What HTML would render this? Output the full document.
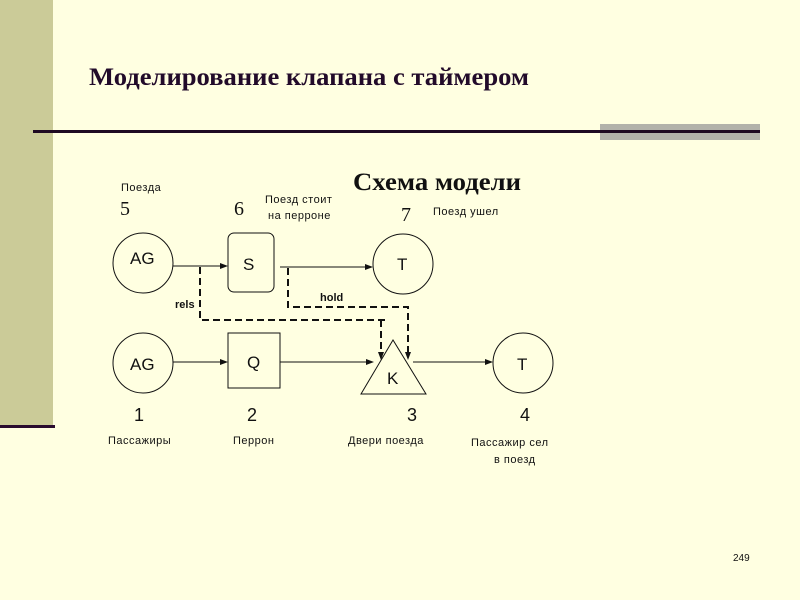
<!DOCTYPE html>
<html><head><meta charset="utf-8"><style>
html,body{margin:0;padding:0;background:#ffffe1;}
svg{display:block;}
</style></head><body>
<svg width="800" height="600" xmlns="http://www.w3.org/2000/svg">
<rect width="800" height="600" fill="#ffffe1"/>
<rect x="0" y="0" width="53" height="425" fill="#cbcb98"/>
<rect x="0" y="425" width="55" height="3" fill="#2a0c2e"/>
<rect x="600" y="124" width="160" height="16" fill="#b2b2aa"/>
<rect x="33" y="130" width="727" height="3" fill="#1f0a22"/>
<text x="89" y="85" font-family="Liberation Serif, serif" font-weight="bold" font-size="25" fill="#220b2a" textLength="440" lengthAdjust="spacingAndGlyphs">Моделирование клапана с таймером</text>
<text x="353" y="190" font-family="Liberation Serif, serif" font-weight="bold" font-size="25" fill="#111" textLength="168" lengthAdjust="spacingAndGlyphs">Схема модели</text>
<g font-family="Liberation Sans, sans-serif" font-size="11" fill="#111" letter-spacing="0.5">
<text x="121" y="191">Поезда</text>
<text x="265" y="203">Поезд стоит</text>
<text x="268" y="219">на перроне</text>
<text x="433" y="215">Поезд ушел</text>
<text x="108" y="444">Пассажиры</text>
<text x="233" y="444">Перрон</text>
<text x="348" y="444">Двери поезда</text>
<text x="471" y="446">Пассажир сел</text>
<text x="494" y="463">в поезд</text>
</g>
<g font-family="Liberation Serif, serif" font-size="20" fill="#111">
<text x="120" y="215">5</text>
<text x="234" y="215">6</text>
<text x="401" y="221">7</text>
</g>
<g font-family="Liberation Sans, sans-serif" font-size="18" fill="#111">
<text x="134" y="421">1</text>
<text x="247" y="421">2</text>
<text x="407" y="421">3</text>
<text x="520" y="421">4</text>
</g>
<g fill="none" stroke="#111" stroke-width="1">
<circle cx="143" cy="263" r="30"/>
<rect x="228" y="233" width="46" height="59" rx="6"/>
<circle cx="403" cy="264" r="30"/>
<circle cx="143" cy="363" r="30"/>
<rect x="228" y="333" width="52" height="55"/>
<polygon points="393,340 361,394 426,394"/>
<circle cx="523" cy="363" r="30"/>
<line x1="173" y1="266" x2="224" y2="266"/>
<line x1="280" y1="267" x2="369" y2="267"/>
<line x1="173" y1="362" x2="224" y2="362"/>
<line x1="280" y1="362" x2="370" y2="362"/>
<line x1="413" y1="362" x2="490" y2="362"/>
</g>
<g fill="none" stroke="#111" stroke-width="2" stroke-dasharray="7,4">
<polyline points="200,267 200,320 388,320"/>
<line x1="381" y1="320" x2="381" y2="354"/>
<polyline points="288,268 288,307 408,307 408,354"/>
</g>
<g fill="#111">
<polygon points="228,266 220,263 220,269"/>
<polygon points="373,267 365,264 365,270"/>
<polygon points="228,362 220,359 220,365"/>
<polygon points="374,362 366,359 366,365"/>
<polygon points="493,362 485,359 485,365"/>
<polygon points="381,360 378,352 384,352"/>
<polygon points="408,360 405,352 411,352"/>
</g>
<g font-family="Liberation Sans, sans-serif" font-size="17" fill="#111">
<text x="130" y="264">AG</text>
<text x="243" y="270">S</text>
<text x="397" y="270">T</text>
<text x="130" y="370">AG</text>
<text x="247" y="368">Q</text>
<text x="387" y="384">K</text>
<text x="517" y="370">T</text>
</g>
<g font-family="Liberation Sans, sans-serif" font-size="11" font-weight="bold" fill="#111">
<text x="175" y="308">rels</text>
<text x="320" y="301">hold</text>
</g>
<text x="733" y="561" font-family="Liberation Sans, sans-serif" font-size="10" fill="#111">249</text>
</svg>
</body></html>
